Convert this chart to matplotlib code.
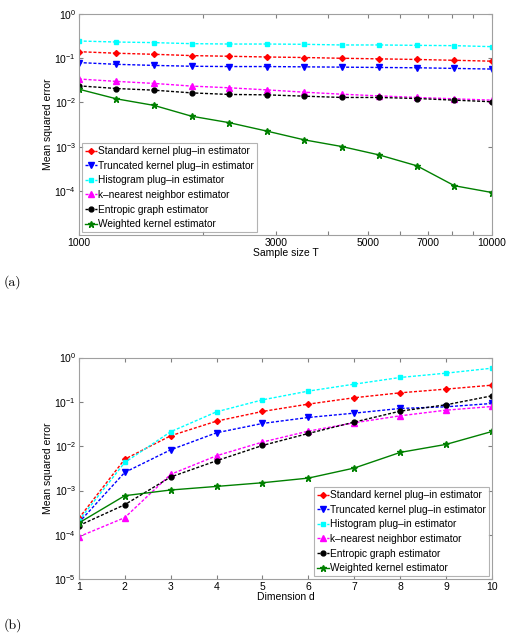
import numpy as np
import matplotlib
matplotlib.use("Agg")
import matplotlib.pyplot as plt
from matplotlib.ticker import FixedLocator, NullLocator, FixedFormatter

plt.rcParams['font.family'] = ['Liberation Sans', 'DejaVu Sans']
plt.rcParams['mathtext.fontset'] = 'custom'
plt.rcParams['mathtext.rm'] = 'Liberation Sans'
plt.rcParams['mathtext.it'] = 'Liberation Sans:italic'

# legend names
names = ['Standard kernel plug\u2013in estimator',
         'Truncated kernel plug\u2013in estimator',
         'Histogram plug\u2013in estimator',
         'k\u2013nearest neighbor estimator',
         'Entropic graph estimator',
         'Weighted kernel estimator']

# (a) sample size sweep
sample_size = [1000, 1233, 1520, 1874, 2310, 2848, 3511, 4329, 5337, 6579, 8111, 10000]
a_standard = [0.141, 0.130, 0.123, 0.115, 0.111, 0.107, 0.104, 0.100, 0.097, 0.094, 0.090, 0.086]
a_truncated = [0.080, 0.073, 0.069, 0.066, 0.065, 0.065, 0.064, 0.063, 0.062, 0.061, 0.059, 0.057]
a_histogram = [0.246, 0.233, 0.226, 0.214, 0.210, 0.210, 0.207, 0.200, 0.200, 0.196, 0.193, 0.183]
a_knn = [0.034, 0.030, 0.027, 0.0235, 0.0215, 0.0193, 0.0171, 0.0154, 0.0141, 0.0130, 0.0121, 0.0113]
a_entropic = [0.0238, 0.0207, 0.0190, 0.0165, 0.0152, 0.0149, 0.0139, 0.0130, 0.0130, 0.0123, 0.0113, 0.0104]
a_weighted = [0.020, 0.0121, 0.0086, 0.0049, 0.0035, 0.00226, 0.00143, 0.00101, 0.00065, 0.00037, 0.000131, 0.000092]

# (b) dimension sweep
dimension = [1, 2, 3, 4, 5, 6, 7, 8, 9, 10]
b_standard = [2.37e-4, 0.0051, 0.0172, 0.0368, 0.0608, 0.089, 0.124, 0.160, 0.194, 0.238]
b_truncated = [1.9e-4, 0.00257, 0.0083, 0.0201, 0.0326, 0.0445, 0.0557, 0.071, 0.0774, 0.092]
b_histogram = [2.1e-4, 0.0043, 0.0212, 0.0597, 0.111, 0.175, 0.251, 0.355, 0.444, 0.575]
b_knn = [9.1e-5, 2.45e-4, 0.00232, 0.0061, 0.0124, 0.0219, 0.0338, 0.0485, 0.065, 0.0787]
b_entropic = [1.62e-4, 4.8e-4, 0.00202, 0.0047, 0.0104, 0.0194, 0.035, 0.0618, 0.086, 0.137]
b_weighted = [1.86e-4, 7.66e-4, 0.00103, 0.00124, 0.0015, 0.00191, 0.00322, 0.00725, 0.0110, 0.0215]

colors = ['#ff0000', '#0000ff', '#00ffff', '#ff00ff', '#000000', '#008000']
markers = ['D', 'v', 's', '^', 'o', '*']
msizes = [3, 4, 3, 4, 3.5, 5]


def draw_series(ax, x, ys):
    for y, c, m, ms, name in zip(ys, colors, markers, msizes, names):
        if c == '#008000':
            ax.plot(x, y, color=c, lw=1.0, marker=m, ms=ms, label=name)
        else:
            ax.plot(x, y, color=c, lw=1.0, ls=(0, (2.2, 1.3)), marker=m, ms=ms,
                    label=name)


def style_axes(ax):
    for s in ax.spines.values():
        s.set_color('#a0a0a0')
        s.set_linewidth(0.8)
    ax.tick_params(which='both', direction='in', top=True, right=True,
                   labelsize=7.5, length=3, color='#808080', pad=2)
    ax.yaxis.set_minor_locator(NullLocator())


def add_legend(ax, loc):
    leg = ax.legend(loc=loc, fontsize=7.3, frameon=True, fancybox=False,
                    handlelength=1.2, handletextpad=0.1, borderpad=0.3,
                    labelspacing=0.45, borderaxespad=0.3)
    leg.get_frame().set_edgecolor('#a0a0a0')
    leg.get_frame().set_linewidth(0.8)


fig = plt.figure(figsize=(5.12, 6.39), dpi=100)

# panel (a)
ax1 = fig.add_axes([0.154, 0.632, 0.807, 0.346])
draw_series(ax1, sample_size, [a_standard, a_truncated, a_histogram, a_knn, a_entropic, a_weighted])
ax1.set_xscale('log')
ax1.set_yscale('log')
ax1.set_xlim(1000, 10000)
ax1.set_ylim(1e-5, 1)
ax1.xaxis.set_major_locator(FixedLocator([1000 * k for k in range(1, 11)]))
ax1.xaxis.set_minor_locator(NullLocator())
ax1.xaxis.set_major_formatter(FixedFormatter(
    ['1000', '', '3000', '', '5000', '', '7000', '', '', '10000']))
ax1.set_yticks([1e-4, 1e-3, 1e-2, 1e-1, 1e0])
ax1.set_xlabel('Sample size T', fontsize=7.5, labelpad=0)
ax1.set_ylabel('Mean squared error', fontsize=7.5, labelpad=1)
style_axes(ax1)
add_legend(ax1, 'lower left')

# panel (b)
ax2 = fig.add_axes([0.154, 0.0935, 0.807, 0.347])
draw_series(ax2, dimension, [b_standard, b_truncated, b_histogram, b_knn, b_entropic, b_weighted])
ax2.set_yscale('log')
ax2.set_xlim(1, 10)
ax2.set_ylim(1e-5, 1)
ax2.set_xticks(dimension)
ax2.set_yticks([1e-5, 1e-4, 1e-3, 1e-2, 1e-1, 1e0])
ax2.set_xlabel('Dimension d', fontsize=7.5, labelpad=0)
ax2.set_ylabel('Mean squared error', fontsize=7.5, labelpad=1)
style_axes(ax2)
add_legend(ax2, 'lower right')

fig.text(0.008, 1 - 282 / 639, '(a)', fontsize=10, family='cmr10', va='center')
fig.text(0.008, 1 - 625 / 639, '(b)', fontsize=10, family='cmr10', va='center')

fig.savefig('out.png', dpi=100)
